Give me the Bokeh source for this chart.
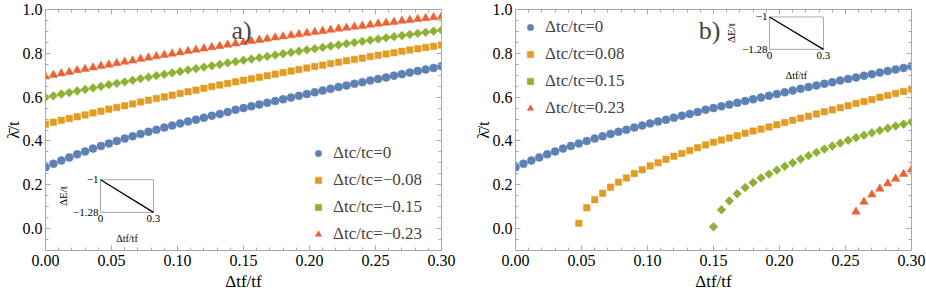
import math
from bokeh.plotting import figure
from bokeh.layouts import row
from bokeh.models import (Range1d, LinearAxis, Legend, LegendItem, Label,
                          FixedTicker, PrintfTickFormatter,
                          CustomLabelingPolicy, CustomJSTickFormatter)
from bokeh.core.properties import value
from bokeh.embed import file_html
from bokeh.resources import INLINE

# ---------------- data ----------------
tf_grid = [0.000, 0.006, 0.012, 0.018, 0.024, 0.030, 0.036, 0.042, 0.048, 0.054,
           0.060, 0.066, 0.072, 0.078, 0.084, 0.090, 0.096, 0.102, 0.108, 0.114,
           0.120, 0.126, 0.132, 0.138, 0.144, 0.150, 0.156, 0.162, 0.168, 0.174,
           0.180, 0.186, 0.192, 0.198, 0.204, 0.210, 0.216, 0.222, 0.228, 0.234,
           0.240, 0.246, 0.252, 0.258, 0.264, 0.270, 0.276, 0.282, 0.288, 0.294,
           0.300]

lam_c0 = [0.280, 0.296, 0.311, 0.325, 0.339, 0.352, 0.365, 0.377, 0.388, 0.400,
          0.411, 0.421, 0.432, 0.442, 0.451, 0.461, 0.470, 0.480, 0.489, 0.497,
          0.506, 0.515, 0.523, 0.532, 0.542, 0.550, 0.558, 0.566, 0.574, 0.582,
          0.590, 0.598, 0.606, 0.614, 0.622, 0.630, 0.638, 0.646, 0.653, 0.661,
          0.668, 0.676, 0.683, 0.690, 0.698, 0.705, 0.712, 0.719, 0.726, 0.733,
          0.741]

# panel a) : negative dt_c
lam_m008 = [0.476, 0.485, 0.494, 0.502, 0.511, 0.519, 0.528, 0.536, 0.545, 0.553,
            0.561, 0.569, 0.578, 0.586, 0.594, 0.601, 0.609, 0.617, 0.625, 0.632,
            0.640, 0.648, 0.655, 0.662, 0.670, 0.677, 0.684, 0.691, 0.698, 0.705,
            0.712, 0.719, 0.726, 0.733, 0.740, 0.746, 0.753, 0.759, 0.766, 0.772,
            0.778, 0.785, 0.791, 0.797, 0.803, 0.809, 0.815, 0.821, 0.827, 0.832,
            0.838]
lam_m015 = [0.599, 0.606, 0.614, 0.621, 0.628, 0.635, 0.642, 0.649, 0.657, 0.663,
            0.670, 0.677, 0.684, 0.691, 0.698, 0.704, 0.711, 0.717, 0.724, 0.730,
            0.737, 0.743, 0.749, 0.756, 0.762, 0.768, 0.774, 0.780, 0.786, 0.792,
            0.798, 0.804, 0.810, 0.816, 0.821, 0.827, 0.833, 0.838, 0.844, 0.849,
            0.855, 0.860, 0.865, 0.871, 0.876, 0.881, 0.886, 0.891, 0.896, 0.901,
            0.906]
lam_m023 = [0.694, 0.701, 0.708, 0.715, 0.722, 0.728, 0.735, 0.742, 0.748, 0.755,
            0.761, 0.767, 0.774, 0.780, 0.786, 0.792, 0.798, 0.804, 0.810, 0.816,
            0.822, 0.828, 0.833, 0.839, 0.845, 0.850, 0.856, 0.861, 0.866, 0.872,
            0.877, 0.882, 0.887, 0.892, 0.897, 0.902, 0.907, 0.912, 0.916, 0.921,
            0.925, 0.930, 0.935, 0.939, 0.943, 0.948, 0.952, 0.956, 0.960, 0.964,
            0.968]

# panel b) : positive dt_c (curves start at a threshold index of tf_grid)
start_p008, start_p015, start_p023 = 8, 25, 43
lam_p008 = [0.024, 0.095, 0.132, 0.161, 0.189, 0.212, 0.231, 0.251, 0.269, 0.286,
            0.301, 0.316, 0.330, 0.343, 0.356, 0.369, 0.382, 0.394,
            0.404, 0.414, 0.424, 0.435, 0.445, 0.454, 0.464, 0.474, 0.484, 0.494,
            0.504, 0.513, 0.523, 0.533, 0.542, 0.552, 0.561, 0.571, 0.580, 0.589,
            0.599, 0.608, 0.617, 0.626, 0.636]
lam_p015 = [0.008, 0.086, 0.126, 0.159, 0.187, 0.210, 0.231, 0.249, 0.267, 0.284,
            0.300, 0.317, 0.333, 0.348, 0.363, 0.377, 0.390, 0.403, 0.415, 0.426,
            0.437, 0.448, 0.458, 0.468, 0.477, 0.486]
lam_p023 = [0.077, 0.122, 0.155, 0.182, 0.206, 0.227, 0.249, 0.269]

labels_a = ["Δtc/tc=0", "Δtc/tc=−0.08", "Δtc/tc=−0.15", "Δtc/tc=−0.23"]
labels_b = ["Δtc/tc=0", "Δtc/tc=0.08", "Δtc/tc=0.15", "Δtc/tc=0.23"]

x_ticks = [0.00, 0.05, 0.10, 0.15, 0.20, 0.25, 0.30]
y_ticks = [0.0, 0.2, 0.4, 0.6, 0.8, 1.0]

# inset: energy gap vs dt_f/t_f
inset_tf = [0.0, 0.3]
inset_dE = [-1.0, -1.28]
inset_xticks = ["0", "0.3"]
inset_yticks = ["−1", "−1.28"]

# ---------------- style ----------------
FONT = "Liberation Serif"
BLUE, ORANGE, GREEN, RED = "#5E81B5", "#E19C24", "#8FB032", "#EB6235"
FRAME = "#a9a9a9"
H = 298
FW = 396          # frame width
BT, BB = 9, 48    # top / bottom borders

NO_LABELS = CustomLabelingPolicy(code="""
const ids = [...indices]
for (const i of ids) indices.unset(i)
return indices
""")
EMPTY_FMT = CustomJSTickFormatter(code="return ''")


def style_axis(ax, labels=True, fmt="%.2f"):
    ax.axis_line_color = FRAME
    ax.major_tick_line_color = FRAME
    ax.minor_tick_line_color = FRAME
    ax.major_tick_in = 5
    ax.major_tick_out = 0
    ax.minor_tick_in = 3
    ax.minor_tick_out = 0
    ax.major_label_text_font = FONT
    ax.major_label_text_color = "black"
    ax.axis_label_text_font = FONT
    ax.axis_label_text_font_style = "normal"
    ax.axis_label_text_font_size = "17px"
    ax.axis_label_text_color = "black"
    if labels:
        ax.major_label_text_font_size = "16px"
        ax.formatter = PrintfTickFormatter(format=fmt)
    else:
        ax.major_label_text_font_size = "0px"
        ax.formatter = EMPTY_FMT
        ax.major_label_policy = NO_LABELS
        ax.major_label_standoff = 0


def make_panel(bl, br):
    p = figure(width=bl + FW + br, height=H, x_range=Range1d(0, 0.3),
               y_range=Range1d(-0.1, 1.0), output_backend="svg",
               toolbar_location=None, min_border_left=bl, min_border_right=br,
               min_border_top=BT, min_border_bottom=BB, x_axis_type=None,
               y_axis_type=None)
    p.grid.visible = False
    p.outline_line_color = FRAME
    p.background_fill_color = "white"
    p.border_fill_color = "white"
    xt = FixedTicker(ticks=x_ticks,
                     minor_ticks=[i / 100 for i in range(0, 31)])
    yt = FixedTicker(ticks=y_ticks,
                     minor_ticks=[i / 20 for i in range(-2, 21)])
    xb = LinearAxis(ticker=xt, axis_label="Δtf/tf")
    style_axis(xb, True, "%.2f")
    xb.major_label_standoff = 4
    xb.axis_label_standoff = 3
    p.add_layout(xb, "below")
    yl = LinearAxis(ticker=yt, axis_label="λ̄/t")
    style_axis(yl, True, "%.1f")
    yl.major_label_standoff = 3
    yl.axis_label_standoff = -3
    p.add_layout(yl, "left")
    xa = LinearAxis(ticker=xt)
    style_axis(xa, False)
    p.add_layout(xa, "above")
    yr = LinearAxis(ticker=yt)
    style_axis(yr, False)
    p.add_layout(yr, "right")
    return p


def add_series(p, xs_list, ys_list, labels, loc):
    markers = [("circle", 8, 6, 0.0, BLUE), ("square", 6.5, 5, 0.0, ORANGE),
               ("square", 6.2, 5, math.pi / 4, GREEN),
               ("triangle", 8.5, 6.5, 0.0, RED)]
    items = []
    for xs, ys, lab, (m, s, ls, ang, c) in zip(xs_list, ys_list, labels,
                                              markers):
        p.scatter(xs, ys, marker=m, size=s, angle=ang, fill_color=c,
                  line_color=c, line_width=0.5)
        # hidden twin of the series with a smaller symbol, used as legend key
        key = p.scatter(xs, ys, marker=m, size=ls, angle=ang, fill_color=c,
                        line_color=c, line_width=0.5, visible=False)
        items.append(LegendItem(label=lab, renderers=[key]))
    leg = Legend(items=items, location=loc, label_text_font=FONT,
                 label_text_font_size="17px", glyph_width=16, glyph_height=20,
                 label_height=20, spacing=7, label_standoff=7, padding=0,
                 margin=0, border_line_alpha=0, background_fill_alpha=0,
                 inactive_fill_alpha=0)
    p.add_layout(leg, "center")


def add_inset(p, xt0, xt1, yt0, yt1):
    sub = p.subplot(x_source=Range1d(inset_tf[0], inset_tf[1]),
                    y_source=Range1d(inset_dE[1], inset_dE[0]),
                    x_target=Range1d(xt0, xt1), y_target=Range1d(yt0, yt1))
    sub.quad(left=[inset_tf[0]], right=[inset_tf[1]], bottom=[inset_dE[1]],
             top=[inset_dE[0]], fill_color="white", line_color=FRAME,
             line_width=1)
    sub.line(inset_tf, inset_dE, line_color="black", line_width=1.3)
    sub.text(x=[inset_tf[0], inset_tf[0]], y=inset_dE, text=inset_yticks,
             x_offset=-2, text_align="right", text_baseline="middle",
             text_font=value(FONT), text_font_size="11px", text_color="black")
    sub.text(x=inset_tf, y=[inset_dE[1], inset_dE[1]], text=inset_xticks,
             y_offset=3, text_align="center", text_baseline="top",
             text_font=value(FONT), text_font_size="11px", text_color="black")
    sub.text(x=[inset_tf[0]], y=[(inset_dE[0] + inset_dE[1]) / 2],
             text=["ΔE/t"], x_offset=-38, angle=math.pi / 2,
             text_align="center", text_baseline="middle",
             text_font=value(FONT), text_font_size="11px", text_color="black")
    sub.text(x=[(inset_tf[0] + inset_tf[1]) / 2], y=[inset_dE[1]],
             text=["Δtf/tf"], y_offset=26, text_align="center",
             text_baseline="middle", text_font=value(FONT),
             text_font_size="10px", text_color="black")


# ---------------- panel a ----------------
pa = make_panel(45, 29)
add_series(pa, [tf_grid] * 4, [lam_c0, lam_m008, lam_m015, lam_m023],
           labels_a, (265, 6))
add_inset(pa, 0.0417, 0.0818, 0.074, 0.223)
pa.add_layout(Label(x=0.1485, y=0.903, text="a)", text_align="center",
                    text_baseline="middle", text_font=FONT,
                    text_font_size="26px"))

# ---------------- panel b ----------------
pb = make_panel(45, 14)
add_series(pb, [tf_grid, tf_grid[start_p008:], tf_grid[start_p015:],
                tf_grid[start_p023:]],
           [lam_c0, lam_p008, lam_p015, lam_p023], labels_b, (7, 132))
add_inset(pb, 0.1924, 0.2333, 0.818, 0.966)
pb.add_layout(Label(x=0.147, y=0.903, text="b)", text_align="center",
                    text_baseline="middle", text_font=FONT,
                    text_font_size="26px"))

layout = row(pa, pb)
open("out.html", "w").write(file_html(layout, INLINE))
